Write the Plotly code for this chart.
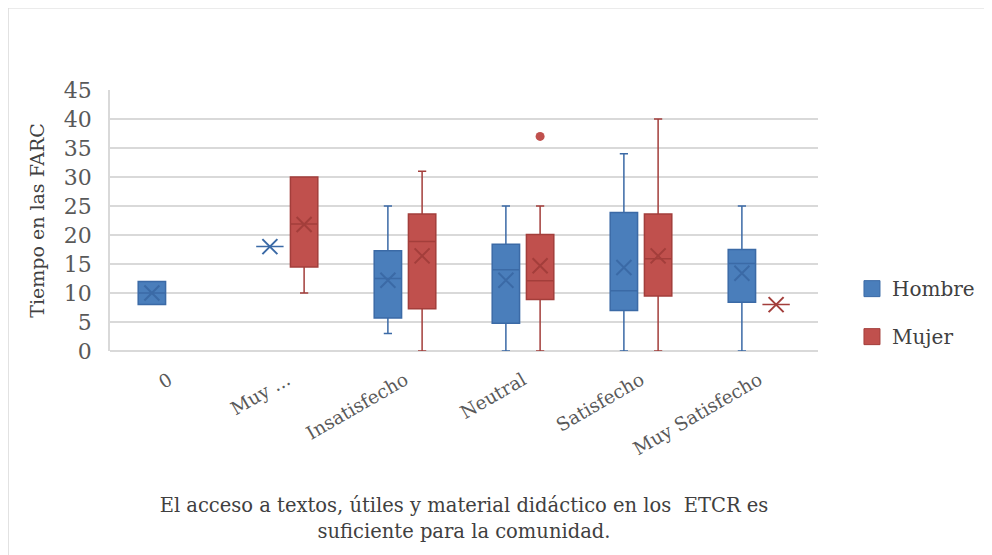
import plotly.graph_objects as go

categories = ["0", "Muy ...", "Insatisfecho", "Neutral", "Satisfecho", "Muy Satisfecho"]

hombre_x = categories
hombre_low = [8, 18, 3, 0, 0, 0]
hombre_q1 = [8, 18, 5.7, 4.8, 7.0, 8.4]
hombre_median = [10, 18, 12.5, 14.0, 10.4, 15.1]
hombre_q3 = [12, 18, 17.3, 18.4, 23.9, 17.5]
hombre_high = [12, 18, 25, 25, 34, 25]
hombre_mean = [10, 18, 12.2, 12.2, 14.4, 13.4]

mujer_x = categories[1:]
mujer_low = [10, 0, 0, 0, 8]
mujer_q1 = [14.5, 7.3, 8.9, 9.5, 8]
mujer_median = [21.9, 18.9, 12.1, 15.9, 8]
mujer_q3 = [30, 23.6, 20.1, 23.6, 8]
mujer_high = [30, 31, 25, 40, 8]
mujer_mean = [21.8, 16.4, 14.7, 16.4, 8]

mujer_outlier_x = ["Neutral"]
mujer_outlier_y = [37]

series_names = ["Hombre", "Mujer"]
x_title = "El acceso a textos, útiles y material didáctico en los  ETCR es<br>suficiente para la comunidad."
y_title = "Tiempo en las FARC"

BLUE_FILL = "#4a7ebb"
BLUE_LINE = "#3b6aa6"
RED_FILL = "#c0504d"
RED_LINE = "#a33e3b"
FONT = "DejaVu Serif"

fig = go.Figure()

fig.add_trace(go.Box(
    x=hombre_x, q1=hombre_q1, median=hombre_median, q3=hombre_q3,
    lowerfence=hombre_low, upperfence=hombre_high,
    name=series_names[0], offsetgroup="h", showlegend=False,
    fillcolor=BLUE_FILL, line=dict(color=BLUE_LINE, width=1.5),
    whiskerwidth=0.3, boxpoints=False, hoverinfo="skip",
))
fig.add_trace(go.Box(
    x=mujer_x, q1=mujer_q1, median=mujer_median, q3=mujer_q3,
    lowerfence=mujer_low, upperfence=mujer_high,
    name=series_names[1], offsetgroup="m", showlegend=False,
    fillcolor=RED_FILL, line=dict(color=RED_LINE, width=1.5),
    whiskerwidth=0.3, boxpoints=False, hoverinfo="skip",
))

# mean markers (X)
fig.add_trace(go.Scatter(
    x=hombre_x, y=hombre_mean, mode="markers", offsetgroup="h", showlegend=False,
    marker=dict(symbol="x-thin-open", size=15, color=BLUE_LINE,
                line=dict(color=BLUE_LINE, width=2)),
    hoverinfo="skip",
))
fig.add_trace(go.Scatter(
    x=mujer_x, y=mujer_mean, mode="markers", offsetgroup="m", showlegend=False,
    marker=dict(symbol="x-thin-open", size=15, color=RED_LINE,
                line=dict(color=RED_LINE, width=2)),
    hoverinfo="skip",
))
# outlier
fig.add_trace(go.Scatter(
    x=mujer_outlier_x, y=mujer_outlier_y, mode="markers", offsetgroup="m", showlegend=False,
    marker=dict(symbol="circle", size=9, color=RED_FILL),
    hoverinfo="skip",
))

# legend entries
fig.add_trace(go.Scatter(
    x=[None], y=[None], mode="markers", name=series_names[0], legendgroup="a",
    marker=dict(symbol="square", size=19, color=BLUE_FILL, line=dict(color=BLUE_LINE, width=1)),
))
fig.add_trace(go.Scatter(
    x=[None], y=[None], mode="markers", name=series_names[1], legendgroup="b",
    marker=dict(symbol="square", size=19, color=RED_FILL, line=dict(color=RED_LINE, width=1)),
))

fig.update_layout(
    width=992, height=555,
    paper_bgcolor="white", plot_bgcolor="white",
    margin=dict(l=102, r=182, t=82, b=212),
    boxmode="group", boxgap=0.42, boxgroupgap=0.2,
    scattermode="group", scattergap=0.42,
    font=dict(family=FONT, color="#595959", size=17),
    legend=dict(
        x=1.048, xanchor="left", y=0.147, yanchor="middle",
        font=dict(family=FONT, size=20, color="#404040"),
        tracegroupgap=19, itemsizing="trace",
    ),
    shapes=[dict(
        type="rect", xref="paper", yref="paper",
        x0=-0.1437, x1=1.3, y0=-0.85, y1=1.314,
        line=dict(color="#d9d9d9", width=1), layer="below",
    )],
)

fig.update_xaxes(
    type="category", categoryorder="array", categoryarray=categories,
    tickangle=-30, tickfont=dict(family=FONT, size=18.5, color="#595959"),
    ticklabelstandoff=14,
    showgrid=False, showline=False, ticks="",
    title=dict(text=x_title, font=dict(family=FONT, size=19.5, color="#404040"), standoff=40),
)
fig.update_yaxes(
    range=[0, 45], dtick=5, tickfont=dict(family=FONT, size=22, color="#595959"),
    ticklabelstandoff=12,
    showgrid=True, gridcolor="#d9d9d9", gridwidth=1.5,
    zeroline=True, zerolinecolor="#d9d9d9", zerolinewidth=1.5,
    showline=True, linecolor="#d9d9d9", linewidth=1.5,
    ticks="", ticklen=0,
    title=dict(text=y_title, font=dict(family=FONT, size=19, color="#404040"), standoff=14),
)

fig.write_html("out.html")
